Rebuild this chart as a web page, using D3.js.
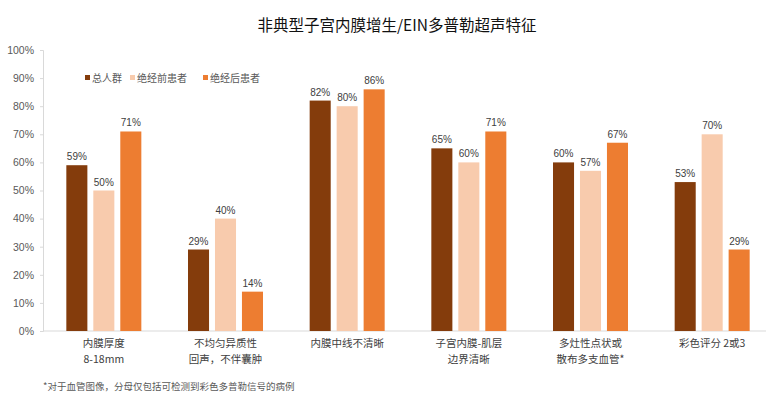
<!DOCTYPE html>
<html><head><meta charset="utf-8">
<script src="https://cdn.jsdelivr.net/npm/d3@7"></script>
<style>body{margin:0;background:#fff;}svg{display:block;font-family:"Noto Sans CJK SC","Microsoft YaHei",sans-serif;}</style>
</head><body><svg id="c" width="771" height="399"></svg>
<script>
const title = "非典型子宫内膜增生/EIN多普勒超声特征";
const categories = [["内膜厚度","8-18mm"],["不均匀异质性","回声，不伴囊肿"],["内膜中线不清晰"],["子宫内膜-肌层","边界清晰"],["多灶性点状或","散布多支血管*"],["彩色评分 2或3"]];
const seriesNames = ["总人群","绝经前患者","绝经后患者"];
const seriesColors = ["#843C0C","#F8CBAD","#ED7D31"];
const total = [59,29,82,65,60,53];
const premeno = [50,40,80,60,57,70];
const postmeno = [71,14,86,71,67,29];
const yTicks = [0,10,20,30,40,50,60,70,80,90,100];
const footnote = "*对于血管图像，分母仅包括可检测到彩色多普勒信号的病例";

const series = [total, premeno, postmeno];
const svg = d3.select("#c");
const mLeft = 43, mRight = 773, mTop = 50, mBottom = 331;
const x0 = d3.scaleBand().domain(d3.range(categories.length)).range([mLeft, mRight]);
const x1 = d3.scaleBand().domain(d3.range(3)).range([-37.5, 37.5]).paddingInner(0.22);
const y = d3.scaleLinear().domain([0,100]).range([mBottom, mTop]);

svg.append("text").attr("x", 397).attr("y", 31).attr("text-anchor","middle")
  .attr("font-size", 15.5).attr("fill","#111").text(title);

// y axis
const yAxis = svg.append("g").attr("transform",`translate(${mLeft},0)`)
  .call(d3.axisLeft(y).tickValues(yTicks).tickFormat(d=>d+"%").tickSize(3).tickPadding(6));
yAxis.select(".domain").attr("stroke","#d9d9d9");
yAxis.selectAll(".tick line").attr("stroke","#d9d9d9");
yAxis.selectAll(".tick text").attr("fill","#595959").attr("font-size",10.5)
  .attr("font-family","Liberation Sans, Arial, sans-serif");

// baseline
svg.append("line").attr("x1",mLeft).attr("x2",766).attr("y1",mBottom).attr("y2",mBottom).attr("stroke","#d9d9d9");

const g = svg.append("g");
categories.forEach((c,i)=>{
  const cx = x0(i) + x0.bandwidth()/2;
  series.forEach((s,j)=>{
    const bx = cx + x1(j);
    g.append("rect").attr("x",bx).attr("y",y(s[i])).attr("width",x1.bandwidth())
      .attr("height",y(0)-y(s[i])).attr("fill",seriesColors[j]);
    g.append("text").attr("x",bx+x1.bandwidth()/2).attr("y",y(s[i])-5)
      .attr("text-anchor","middle").attr("font-size",10).attr("fill","#404040")
      .attr("font-family","Liberation Sans, Arial, sans-serif").text(s[i]+"%");
  });
  c.forEach((line,k)=>{
    g.append("text").attr("x",cx).attr("y",347+k*16).attr("text-anchor","middle")
      .attr("font-size",10.5).attr("fill","#404040").text(line);
  });
});

// legend
const legX = [85, 130, 203];
seriesNames.forEach((n,j)=>{
  svg.append("rect").attr("x",legX[j]).attr("y",75).attr("width",5).attr("height",5).attr("fill",seriesColors[j]);
  svg.append("text").attr("x",legX[j]+7).attr("y",81.5).attr("font-size",10).attr("fill","#595959").text(n);
});

svg.append("text").attr("x",43).attr("y",390).attr("font-size",9.5).attr("fill","#595959").text(footnote);
</script></body></html>
